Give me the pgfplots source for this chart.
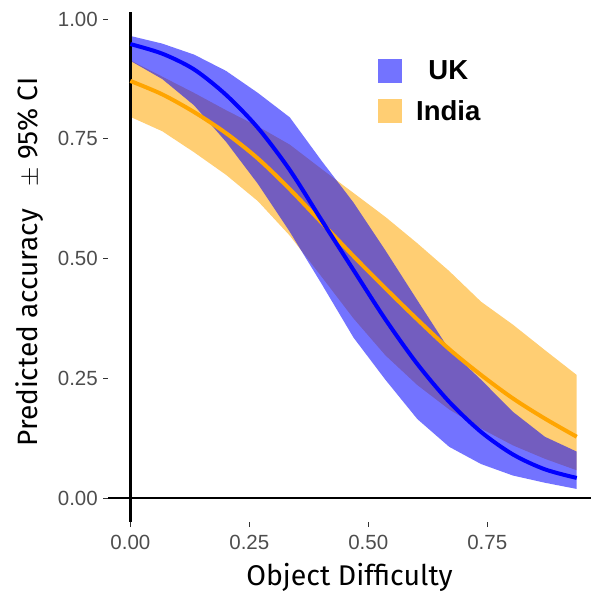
\documentclass[border=0pt]{standalone}
\usepackage{fontspec}
\setmainfont{Fira Sans}
\newfontfamily\tickfont{Liberation Sans}
\newfontfamily\legfont{Liberation Sans}
\usepackage{pgfplots}
\usepackage{pgfplotstable}
\pgfplotsset{compat=1.18}
\usepgfplotslibrary{fillbetween}

\definecolor{ukcol}{RGB}{0,0,255}
\definecolor{incol}{RGB}{255,165,0}
\definecolor{tickgrey}{RGB}{77,77,77}
\definecolor{tickmark}{RGB}{51,51,51}

% predicted accuracy with 95% CI, by object difficulty
\pgfplotstableread{
x     mean  lo    hi
0.000 0.948 0.913 0.965
0.067 0.928 0.875 0.949
0.134 0.895 0.820 0.926
0.201 0.842 0.744 0.892
0.268 0.773 0.656 0.846
0.335 0.685 0.556 0.795
0.402 0.580 0.447 0.704
0.469 0.476 0.335 0.617
0.536 0.373 0.247 0.517
0.603 0.280 0.165 0.413
0.670 0.201 0.107 0.310
0.737 0.138 0.071 0.247
0.804 0.091 0.047 0.180
0.871 0.060 0.032 0.128
0.938 0.042 0.019 0.097
}\ukdata

\pgfplotstableread{
x     mean  lo    hi
0.000 0.871 0.796 0.914
0.067 0.843 0.766 0.880
0.134 0.806 0.722 0.846
0.201 0.762 0.675 0.810
0.268 0.709 0.620 0.776
0.335 0.645 0.548 0.738
0.402 0.575 0.462 0.687
0.469 0.505 0.375 0.637
0.536 0.438 0.298 0.587
0.603 0.373 0.236 0.532
0.670 0.311 0.185 0.474
0.737 0.257 0.145 0.410
0.804 0.208 0.110 0.362
0.871 0.166 0.082 0.309
0.938 0.128 0.058 0.257
}\indata

\begin{document}
\begin{tikzpicture}
\begin{axis}[
  scale only axis,
  width=483pt, height=510pt,
  xmin=-0.047, xmax=0.968,
  ymin=-0.05, ymax=1.015,
  axis lines*=left,
  axis line style={draw=none},
  xtick={0,0.25,0.5,0.75},
  ytick={0,0.25,0.5,0.75,1},
  tick align=outside,
  major tick length=5pt,
  tick style={color=tickmark, line width=1.1pt},
  /pgf/number format/fixed,
  /pgf/number format/fixed zerofill,
  /pgf/number format/precision=2,
  /pgf/number format/assume math mode=true,
  tick label style={font=\tickfont\fontsize{20.5}{24}\selectfont, text=tickgrey, inner sep=0pt},
  yticklabel style={xshift=-5pt},
  xticklabel style={yshift=-8pt},
  xlabel={Object Difficulty},
  ylabel={Predicted accuracy \ \ $\pm$ 95\% CI},
  every axis x label/.style={at={(axis description cs:0.5,0)}, anchor=base, yshift=-63pt,
    font=\fontsize{28.5}{32}\selectfont},
  every axis y label/.style={at={(axis description cs:-0.145,0.51)}, rotate=90, anchor=base,
    font=\fontsize{28}{32}\selectfont},
  legend style={
    at={(axis description cs:0.559,0.908)}, anchor=north west,
    draw=none, fill=none, inner sep=0pt,
    row sep=16pt, column sep=14pt,
    font=\legfont\bfseries\fontsize{27.5}{30}\selectfont,
    nodes={inner sep=0pt},
  },
  legend cell align=center,
]
\addlegendimage{legend image code/.code={\path[fill=ukcol, fill opacity=0.55, draw=none] (0pt,-12pt) rectangle (24pt,12pt);}}
\addlegendentry{UK}
\addlegendimage{legend image code/.code={\path[fill=incol, fill opacity=0.55, draw=none] (0pt,-12pt) rectangle (24pt,12pt);}}
\addlegendentry{India}

% confidence bands
\addplot[name path=inhi, draw=none, forget plot] table[x=x, y=hi]{\indata};
\addplot[name path=inlo, draw=none, forget plot] table[x=x, y=lo]{\indata};
\addplot[fill=incol, fill opacity=0.55, draw=none, forget plot] fill between[of=inhi and inlo];
\addplot[name path=ukhi, draw=none, forget plot] table[x=x, y=hi]{\ukdata};
\addplot[name path=uklo, draw=none, forget plot] table[x=x, y=lo]{\ukdata};
\addplot[fill=ukcol, fill opacity=0.55, draw=none, forget plot] fill between[of=ukhi and uklo];

% reference lines at zero
\addplot[black, line width=2.5pt, forget plot] coordinates {(-0.047,0) (0.968,0)};
\addplot[black, line width=2.5pt, forget plot] coordinates {(0,-0.05) (0,1.015)};

% fitted curves
\addplot[incol, line width=4pt, smooth, forget plot] table[x=x, y=mean]{\indata};
\addplot[ukcol, line width=4pt, smooth, forget plot] table[x=x, y=mean]{\ukdata};
\end{axis}
\pgfresetboundingbox
\path[use as bounding box] (-108pt,-72pt) rectangle (483pt,522pt);
\end{tikzpicture}
\end{document}
